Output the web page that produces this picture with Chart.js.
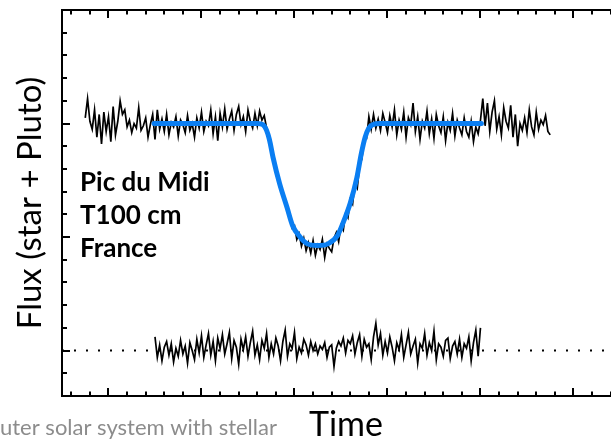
<!DOCTYPE html>
<html>
<head>
<meta charset="utf-8">
<script src="https://cdn.jsdelivr.net/npm/chart.js@4"></script>
<style>
  html, body { margin: 0; padding: 0; background: #fff; overflow: hidden; width: 611px; height: 442px; }
  #wrap { width: 630px; height: 442px; }
</style>
</head>
<body>
<div id="wrap"><canvas id="c" width="630" height="442"></canvas></div>
<script>
// ---- Data (arbitrary flux units, residual zero = 0) ----
const obsStart = -0.25;      // time of first observed sample
const obsStep = 0.025;       // sampling interval
const observedFlux = [
  2.05, 2.22, 2.02, 1.95, 2.12, 1.88, 2.08, 1.82, 2.10, 1.93, 2.06, 1.84, 2.15, 1.90, 2.02, 2.20, 2.08, 2.12, 1.97, 2.03,
  1.92, 2.00, 1.96, 2.14, 1.94, 1.98, 2.05, 1.88, 1.99, 2.08, 1.86,
  2.12, 1.95, 2.04, 1.93, 2.08, 1.90, 2.01, 1.97, 2.06, 1.89, 2.03, 1.99, 1.92, 2.07, 1.94, 2.00, 1.88, 2.05, 1.96, 2.10,
  1.93, 2.02, 1.98, 2.12, 1.91, 2.06, 1.85, 2.09, 1.97, 2.13, 1.95, 2.04, 2.11, 1.94, 2.08, 2.15, 1.99, 2.06, 1.93, 2.12,
  2.02, 1.96, 2.09, 1.98, 2.11, 2.03, 2.07,
  1.96, 1.84, 1.82, 1.65, 1.63, 1.49, 1.47, 1.36, 1.33, 1.22, 1.20, 1.08, 1.10, 0.98, 1.03, 0.92, 0.99, 0.88, 0.95, 0.86,
  0.97, 0.84, 0.93, 0.89, 0.98, 0.82, 0.94, 0.90, 0.87, 0.99, 1.04, 0.96, 1.10, 1.06, 1.21, 1.17, 1.33, 1.29, 1.47, 1.43,
  1.63, 1.69, 1.88, 1.87, 2.06, 1.95, 2.08, 1.96, 2.04,
  1.94, 2.09, 2.01, 1.92, 2.07, 1.97, 2.12, 1.90, 2.03, 1.95, 2.10, 1.88, 2.05, 1.99, 2.18, 1.93, 2.06, 1.86, 2.02, 1.96,
  2.11, 1.91, 2.04, 1.87, 2.08, 1.98, 1.92, 2.06, 1.85, 2.01, 1.94, 2.09, 1.89, 2.03, 1.96, 1.90, 2.05, 1.93, 1.88, 2.02,
  1.84, 1.97, 1.91, 2.03,
  2.22, 1.98, 2.18, 1.93, 2.10, 2.20, 1.95, 2.06, 1.90, 2.14, 2.02, 1.96, 2.16, 1.88, 2.08, 1.80, 2.00, 1.94, 2.05, 1.92,
  2.12, 1.97, 1.90, 2.10, 1.95, 2.03, 1.99, 2.07, 1.93, 1.90
];

const modelTime = [0.49, 1.60, 1.66, 1.70, 1.73, 1.77, 1.84, 1.92, 1.98, 2.06, 2.14, 2.25, 2.36, 2.46, 2.52, 2.60, 2.67, 2.72, 2.76, 2.80, 2.84, 2.92, 4.01];
const modelFlux = [2.00, 2.00, 1.99, 1.94, 1.86, 1.70, 1.47, 1.26, 1.10, 1.00, 0.94, 0.925, 0.94, 1.01, 1.12, 1.30, 1.52, 1.74, 1.88, 1.96, 1.99, 2.00, 2.00];

const resStart = 0.5;
const resStep = 0.025;
const residuals = [
  0.12, -0.06, 0.05, -0.09, 0.03, 0.08, -0.04, 0.06, -0.10, 0.02, -0.05, 0.09, -0.03, 0.04, -0.11, 0.07, 0.00, -0.08, 0.10, -0.02,
  0.13, -0.06, 0.05, 0.15, -0.04, 0.08, -0.09, 0.11, 0.02, 0.14, -0.03, 0.06, 0.16, -0.07, 0.09, 0.03, -0.12, 0.10, 0.01, 0.12,
  -0.05, 0.07, 0.17, -0.04, 0.05, -0.08, 0.09, 0.02, 0.15, -0.06,
  0.06, -0.03, 0.11, 0.04, -0.09, 0.08, 0.18, -0.05, 0.06, 0.02, 0.16, -0.07, 0.03, -0.02, 0.10, 0.05, -0.04, 0.08, 0.00, 0.06,
  -0.03, 0.04, 0.01, 0.07, -0.06, 0.03, 0.05, -0.14, 0.02, 0.08, 0.04, 0.11, -0.02, 0.09, 0.06, 0.13, -0.03, 0.07, 0.14, -0.05,
  0.10, 0.03, 0.06, -0.08, 0.12, 0.24, 0.05, 0.15, -0.04, 0.08,
  -0.02, 0.12, 0.03, -0.09, 0.07, 0.01, 0.14, -0.06, 0.05, 0.16, -0.03, 0.04, 0.10, -0.11, 0.06, 0.02, 0.15, -0.04, 0.07, 0.00,
  0.17, -0.08, 0.06, 0.03, -0.05, 0.09, 0.11, -0.07, 0.04, 0.08, -0.03, 0.10, -0.06, 0.06, 0.02, 0.12, -0.09, 0.07, 0.18, -0.05,
  0.20
];

const zeroLineTime = [-0.5, 5.61];
const zeroLineValue = [0, 0];

const xTitle = 'Time';
const yTitle = 'Flux (star + Pluto)';
const siteLabels = ['Pic du Midi', 'T100 cm', 'France'];
const captionText = 'uter solar system with stellar';

// ---- Axis ranges ----
const X_MIN = -0.5, X_MAX = 5.608, Y_MIN = -0.4, Y_MAX = 3.0;

// ---- Build point tables ----
const obsPoints = observedFlux.map((v, i) => ({ x: obsStart + i * obsStep, y: v }));
const resPoints = residuals.map((v, i) => ({ x: resStart + i * resStep, y: v }));
const modelPoints = modelTime.map((t, i) => ({ x: t, y: modelFlux[i] }));
const zeroPoints = zeroLineTime.map((t, i) => ({ x: t, y: zeroLineValue[i] }));

const tickMarks = {
  id: 'tickMarks',
  afterDraw(chart) {
    const { ctx, chartArea: a, scales } = chart;
    const xs = scales.x, ys = scales.y;
    ctx.save();
    ctx.strokeStyle = '#000';
    ctx.lineWidth = 2;
    ctx.beginPath();
    for (let k = 0; k <= 17; k++) {
      const v = Y_MIN + k * 0.2;
      const major = Math.abs(v - Math.round(v)) < 1e-6;
      const py = Math.round(ys.getPixelForValue(v));
      const len = major ? 8 : 5;
      ctx.moveTo(a.left, py);
      ctx.lineTo(a.left + len, py);
    }
    for (let k = 0; k <= 30; k++) {
      const v = -0.4 + k * 0.2;
      if (v > X_MAX) break;
      const major = Math.abs(v - Math.round(v)) < 1e-6;
      const px = Math.round(xs.getPixelForValue(v));
      const len = major ? 8 : 4.5;
      ctx.moveTo(px, a.bottom);
      ctx.lineTo(px, a.bottom - len);
      ctx.moveTo(px, a.top);
      ctx.lineTo(px, a.top + len);
    }
    ctx.stroke();

    // site annotation
    ctx.fillStyle = '#000';
    ctx.font = 'bold 26px Lato';
    ctx.textAlign = 'left';
    ctx.textBaseline = 'alphabetic';
    const baselines = [191, 224, 257];
    siteLabels.forEach((s, i) => ctx.fillText(s, 80, baselines[i]));

    // clipped caption from the surrounding slide
    ctx.fillStyle = '#8c8c8c';
    ctx.font = '22px Lato';
    ctx.textAlign = 'left';
    ctx.fillText(captionText, 0, 435);
    ctx.restore();
  }
};

function build() {
  new Chart(document.getElementById('c'), {
    type: 'line',
    data: {
      datasets: [
        { label: 'model', data: modelPoints, borderColor: '#0a7ef2', borderWidth: 5, pointRadius: 0,
          cubicInterpolationMode: 'monotone', borderCapStyle: 'round', order: 0 },
        { label: 'observed', data: obsPoints, borderColor: '#000', borderWidth: 1.7, pointRadius: 0, tension: 0, order: 1 },
        { label: 'residuals', data: resPoints, borderColor: '#000', borderWidth: 1.7, pointRadius: 0, tension: 0, order: 2 },
        { label: 'zero', data: zeroPoints, borderColor: '#000', borderWidth: 2, borderDash: [2, 10], pointRadius: 0, order: 3 }
      ]
    },
    options: {
      responsive: false,
      animation: false,
      events: [],
      layout: { padding: { top: 10, right: 0, left: 0, bottom: 0 } },
      plugins: { legend: { display: false }, tooltip: { enabled: false } },
      scales: {
        x: {
          type: 'linear', position: 'bottom', min: X_MIN, max: X_MAX,
          grid: { display: false, drawTicks: false }, ticks: { display: false },
          border: { display: true, color: '#000', width: 2 },
          title: { display: true, text: xTitle, color: '#000', font: { family: 'Lato', size: 34, lineHeight: 1 },
                   padding: { top: 12, bottom: 0 } }
        },
        x2: {
          type: 'linear', position: 'top', min: X_MIN, max: X_MAX,
          grid: { display: false, drawTicks: false }, ticks: { display: false },
          border: { display: true, color: '#000', width: 2 }
        },
        y: {
          type: 'linear', position: 'left', min: Y_MIN, max: Y_MAX,
          grid: { display: false, drawTicks: false }, ticks: { display: false },
          border: { display: true, color: '#000', width: 2 },
          title: { display: true, text: yTitle, color: '#000', font: { family: 'Lato', size: 33, lineHeight: 1 },
                   padding: { top: 14, bottom: 15 } }
        }
      }
    },
    plugins: [tickMarks]
  });
}

Promise.all([
  document.fonts.load('34px Lato'),
  document.fonts.load('bold 26px Lato'),
  document.fonts.load('22px Lato')
]).then(build, build);
</script>
</body>
</html>
